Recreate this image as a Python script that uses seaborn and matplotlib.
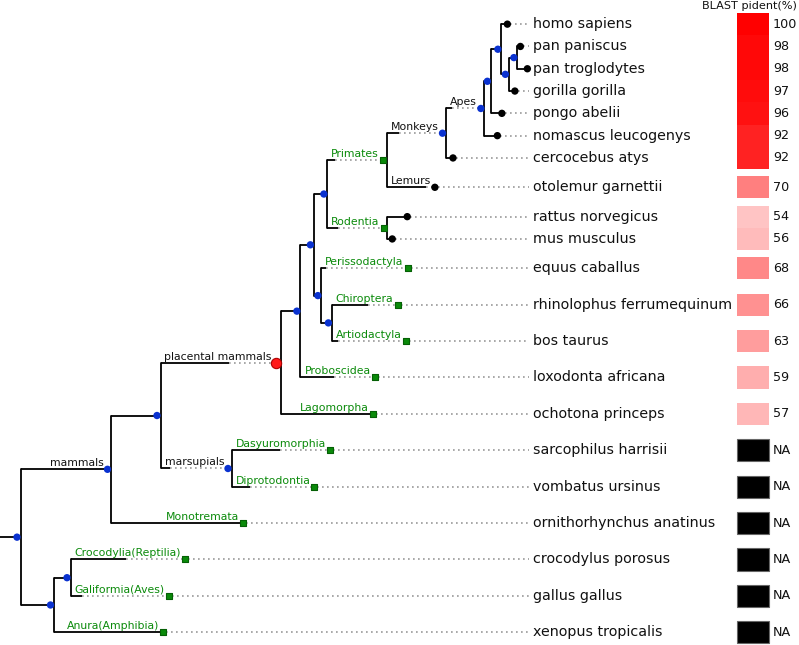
import matplotlib
matplotlib.use('Agg')
import matplotlib.pyplot as plt
import seaborn as sns
import pandas as pd

# tree: node, parent, branch length (px), label on top of the branch
node = ['root', 'mammals', 'theria', 'placental', 'boreo', 'euarch_laur', 'euarch',
        'primates', 'monkeys', 'apes', 'hominidae', 'hominini', 'homo', 'pan_gor', 'pan',
        'pan_pan', 'pan_tro', 'gorilla', 'pongo', 'nomascus', 'cercocebus', 'otolemur',
        'rodentia', 'rattus', 'mus', 'laur', 'equus', 'chiro_artio', 'rhinolophus', 'bos',
        'loxodonta', 'ochotona', 'marsupials', 'sarcophilus', 'vombatus', 'ornitho',
        'sauropsida', 'croc_gal', 'crocodylus', 'gallus', 'xenopus']
parent = [None, 'root', 'mammals', 'theria', 'placental', 'boreo', 'euarch_laur',
          'euarch', 'primates', 'monkeys', 'apes', 'hominidae', 'hominini', 'hominini', 'pan_gor',
          'pan', 'pan', 'pan_gor', 'hominidae', 'apes', 'monkeys', 'primates',
          'euarch', 'rodentia', 'rodentia', 'euarch_laur', 'laur', 'laur', 'chiro_artio', 'chiro_artio',
          'boreo', 'placental', 'theria', 'marsupials', 'marsupials', 'mammals',
          'root', 'sauropsida', 'croc_gal', 'croc_gal', 'sauropsida']
blen = [17, 87, 46, 68, 16, 10, 10,
        8, 12, 6, 3, 7, 6, 4, 5,
        3, 10, 6, 11, 13, 7, 39,
        11, 20, 5, 4, 5, 7, 36, 6,
        34, 92, 9, 48, 18, 132,
        30, 13, 55, 11, 109]
blabel = ['', 'mammals', '', 'placental mammals', '', '', '',
          'Primates', 'Monkeys', 'Apes', '', '', '', '', '',
          '', '', '', '', '', '', 'Lemurs',
          'Rodentia', '', '', '', 'Perissodactyla', '', 'Chiroptera', 'Artiodactyla',
          'Proboscidea', 'Lagomorpha', 'marsupials', 'Dasyuromorphia', 'Diprotodontia', 'Monotremata',
          '', '', 'Crocodylia(Reptilia)', 'Galiformia(Aves)', 'Anura(Amphibia)']
orders = ['Primates', 'Rodentia', 'Perissodactyla', 'Chiroptera', 'Artiodactyla',
          'Proboscidea', 'Lagomorpha', 'Dasyuromorphia', 'Diprotodontia', 'Monotremata',
          'Crocodylia(Reptilia)', 'Galiformia(Aves)', 'Anura(Amphibia)']

leaf_name = ['homo sapiens', 'pan paniscus', 'pan troglodytes', 'gorilla gorilla',
             'pongo abelii', 'nomascus leucogenys', 'cercocebus atys', 'otolemur garnettii',
             'rattus norvegicus', 'mus musculus', 'equus caballus', 'rhinolophus ferrumequinum',
             'bos taurus', 'loxodonta africana', 'ochotona princeps', 'sarcophilus harrisii',
             'vombatus ursinus', 'ornithorhynchus anatinus', 'crocodylus porosus',
             'gallus gallus', 'xenopus tropicalis']
pident = [100, 98, 98, 97, 96, 92, 92, 70, 54, 56, 68, 66, 63, 59, 57,
          None, None, None, None, None, None]

sns.set_style('white')
plt.rcParams['font.family'] = ['DejaVu Sans']

fig = plt.figure(figsize=(7.99, 6.45), dpi=100)
ax = fig.add_axes([0, 0, 1, 1])
ax.set_xlim(0, 799)
ax.set_ylim(645, 0)
ax.axis('off')
renderer = fig.canvas.get_renderer()

def text_w(s, size):
    if not s:
        return 0
    t = ax.text(0, 0, s, fontsize=size)
    w = t.get_window_extent(renderer).width
    t.remove()
    return w

children = {n: [] for n in node}
for n, p in zip(node, parent):
    if p:
        children[p].append(n)
bl = dict(zip(node, blen))
lab = dict(zip(node, blabel))

# leaf rows: taller rows for leaves that carry a branch label
leaves = []
def collect(n):
    if not children[n]:
        leaves.append(n)
    for c in children[n]:
        collect(c)
collect('root')

ypos = {}
top = 13
for n in leaves:
    h = 36.4 if lab[n] else 22.3
    ypos[n] = top + h / 2
    top += h

def set_y(n):
    if children[n]:
        ys = [set_y(c) for c in children[n]]
        ypos[n] = (ys[0] + ys[-1]) / 2
    return ypos[n]
set_y('root')

LAB_SIZE = 7.8
start, mark = {}, {}
def set_x(n, s):
    start[n] = s
    w = text_w(lab[n], LAB_SIZE)
    mark[n] = s + max(bl[n], w + 8 if w else 0)
    off = 5 if n == 'placental' else 3.5
    for c in children[n]:
        set_x(c, mark[n] + off)
set_x('root', 0)

LEAF_X = 533
for n in node:
    y = ypos[n]
    s = start[n]
    ax.plot([s, s + bl[n]], [y, y], color='black', lw=1.3, solid_capstyle='butt', zorder=2)
    if mark[n] > s + bl[n]:
        ax.plot([s + bl[n], mark[n]], [y, y], color='#999999', lw=1.2,
                linestyle=(0, (1, 2)), zorder=1)
    if lab[n]:
        ax.text(mark[n] - 4, y - 3, lab[n], ha='right', va='baseline', fontsize=LAB_SIZE,
                color='#0a8a0a' if lab[n] in orders else '#111111')
    if children[n]:
        off = 5 if n == 'placental' else 3.5
        ys = [ypos[c] for c in children[n]]
        ax.plot([mark[n] + off] * 2, [ys[0], ys[-1]], color='black', lw=1.3, zorder=2)
    else:
        ax.plot([mark[n] + 3, LEAF_X - 4], [y, y], color='#999999', lw=1.2,
                linestyle=(0, (1, 2)), zorder=1)

# node markers
kind = []
for n in node:
    if n == 'placental':
        kind.append('placental')
    elif lab[n] in orders:
        kind.append('order')
    elif children[n]:
        kind.append('internal')
    else:
        kind.append('leaf')
mk = pd.DataFrame({'x': [mark[n] for n in node], 'y': [ypos[n] for n in node], 'kind': kind})
styles = {'internal': ('#0a32d0', 'o', 28, 'none'),
          'leaf': ('black', 'o', 28, 'none'),
          'order': ('#0a8a0a', 's', 22, '#056005'),
          'placental': ('#ff1a1a', 'o', 55, '#b00000')}
for k, (c, m, sz, ec) in styles.items():
    sub = mk[mk['kind'] == k]
    sns.scatterplot(data=sub, x='x', y='y', color=c, marker=m, s=sz, edgecolor=ec,
                    linewidth=0.8 if ec != 'none' else 0, ax=ax, zorder=5, legend=False)

# leaf names + BLAST column
cmap = sns.blend_palette(['white', 'red'], as_cmap=True)
for n, name, v in zip(leaves, leaf_name, pident):
    y = ypos[n]
    ax.text(LEAF_X, y, name, va='center', ha='left', fontsize=10.3, color='#111111')
    if v is None:
        ax.barh(y, 32, left=737, height=22.3, color='black', edgecolor='#666666', linewidth=0.8)
        ax.text(773, y, 'NA', va='center', fontsize=9.2, color='#111111')
    else:
        ax.barh(y, 32, left=737, height=22.3, color=cmap((v - 40) / 60), linewidth=0)
        ax.text(773, y, str(v), va='center', fontsize=9.2, color='#111111')
ax.text(797, 6, 'BLAST pident(%)', ha='right', va='center', fontsize=8.1, color='#111111')

ax.set_xlim(0, 799)
ax.set_ylim(645, 0)
ax.axis('off')
fig.savefig('out.png', dpi=100)
